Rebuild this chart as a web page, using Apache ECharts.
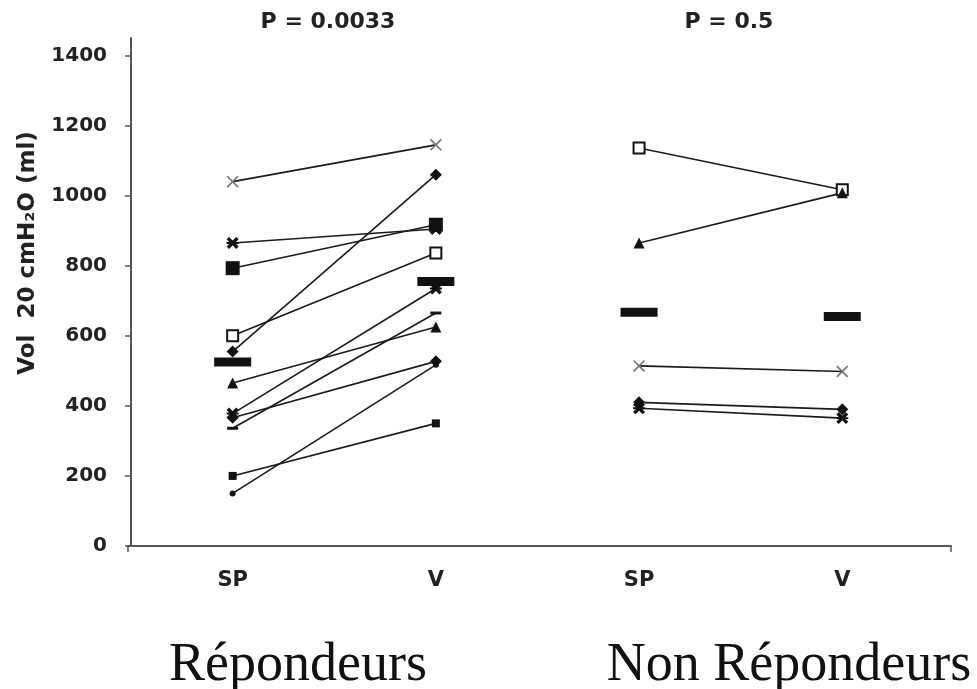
<!DOCTYPE html>
<html>
<head>
<meta charset="utf-8">
<script src="https://cdn.jsdelivr.net/npm/echarts@6/dist/echarts.min.js"></script>
<style>html,body{margin:0;padding:0;background:#fff}#c{width:977px;height:689px}</style>
</head>
<body>
<div id="c"></div>
<script>
// ---- data ----
const categories = ['SP', 'V', 'SP', 'V'];
const xPositions = [0.5, 1.5, 2.5, 3.5];
const yTicks = [0, 200, 400, 600, 800, 1000, 1200, 1400];
const titles = ['P = 0.0033', 'P = 0.5'];
const groupNames = ['Répondeurs', 'Non Répondeurs'];
const yName = 'Vol  20 cmH₂O (ml)';

const respSP = [1040, 865, 793, 600, 555, 465, 378, 366, 336, 200, 150];
const respV  = [1145, 905, 917, 836, 1060, 625, 735, 527, 665, 350, 517];
const respMarkers = ['cross', 'asterisk', 'bigRect', 'emptyRect', 'diamond', 'triangle', 'asterisk', 'diamond', 'dash', 'rect', 'circle'];

const nonSP = [1136, 865, 514, 410, 393];
const nonV  = [1017, 1008, 498, 390, 365];
const nonMarkers = ['emptyRect', 'triangle', 'cross', 'diamond', 'asterisk'];

const respMeans = [525, 755];
const nonMeans = [667, 655];

// ---- styles ----
const markerStyles = {
  cross: { symbol: 'path://M0,1 L1,0 L10,9 L9,10 Z M9,0 L10,1 L1,10 L0,9 Z', size: 12, color: '#777' },
  asterisk: { symbol: 'path://M0,2 L2,0 L10,8 L8,10 Z M8,0 L10,2 L2,10 L0,8 Z M0,4.2 L10,4.2 L10,5.8 L0,5.8 Z', size: 12, color: '#111' },
  bigRect: { symbol: 'rect', size: 14, color: '#111' },
  rect: { symbol: 'rect', size: 8, color: '#111' },
  emptyRect: { symbol: 'emptyRect', size: 11, color: '#111' },
  diamond: { symbol: 'diamond', size: 12, color: '#111' },
  triangle: { symbol: 'triangle', size: 11, color: '#111' },
  circle: { symbol: 'circle', size: 6, color: '#111' },
  dash: { symbol: 'rect', size: [11, 3], color: '#111' }
};

const series = [];
function addGroup(sp, v, markers, xa, xb) {
  for (let i = 0; i < sp.length; i++) {
    const m = markerStyles[markers[i]];
    series.push({
      type: 'line',
      data: [[xa, sp[i]], [xb, v[i]]],
      symbol: m.symbol,
      symbolSize: m.size,
      showAllSymbol: true,
      lineStyle: { color: '#1a1a1a', width: 1.6 },
      itemStyle: { color: m.color, borderWidth: 1.5, opacity: 1 },
      z: 2,
      silent: true
    });
  }
}
addGroup(respSP, respV, respMarkers, xPositions[0], xPositions[1]);
addGroup(nonSP, nonV, nonMarkers, xPositions[2], xPositions[3]);

series.push({
  type: 'scatter',
  data: [[xPositions[0], respMeans[0]], [xPositions[1], respMeans[1]], [xPositions[2], nonMeans[0]], [xPositions[3], nonMeans[1]]],
  symbol: 'rect',
  symbolSize: [37, 9],
  itemStyle: { color: '#111', opacity: 1 },
  z: 5,
  silent: true
});

const xMin = -0.015, xMax = 4.035;

const option = {
  animation: false,
  backgroundColor: '#fff',
  grid: { left: 128, top: 38, width: 823, height: 508, containLabel: false },
  xAxis: {
    type: 'value', min: xMin, max: xMax,
    axisLine: { show: true, onZero: false, lineStyle: { color: '#555', width: 2 } },
    axisTick: { show: true, length: 6, customValues: [xMin, xMax], lineStyle: { color: '#555', width: 1.5 } },
    axisLabel: {
      customValues: xPositions,
      formatter: function (v) { const i = Math.round(v - 0.5); return categories[i] || ''; },
      margin: 24,
      color: '#222', fontFamily: 'DejaVu Sans', fontWeight: 'bold', fontSize: 21
    },
    splitLine: { show: false }
  },
  yAxis: {
    type: 'value', min: 0, max: 1450,
    axisLine: { show: true, lineStyle: { color: '#555', width: 2 } },
    axisTick: { show: true, length: 6, customValues: yTicks, lineStyle: { color: '#555', width: 1.5 } },
    axisLabel: {
      customValues: yTicks, margin: 21,
      formatter: function (v) { return String(Math.round(v)); },
      color: '#222', fontFamily: 'DejaVu Sans', fontWeight: 'bold', fontSize: 20
    },
    splitLine: { show: false }
  },
  graphic: [
    { type: 'text', x: 328, y: 22, style: { text: titles[0], font: 'bold 22px "DejaVu Sans"', fill: '#222', textAlign: 'center', textVerticalAlign: 'middle' } },
    { type: 'text', x: 729, y: 22, style: { text: titles[1], font: 'bold 22px "DejaVu Sans"', fill: '#222', textAlign: 'center', textVerticalAlign: 'middle' } },
    { type: 'text', x: 28, y: 253, rotation: Math.PI / 2, style: { text: yName, font: 'bold 23px "DejaVu Sans"', fill: '#222', textAlign: 'center', textVerticalAlign: 'middle' } },
    { type: 'text', x: 298, y: 666, style: { text: groupNames[0], font: '54px "Liberation Serif"', fill: '#111', textAlign: 'center', textVerticalAlign: 'middle' } },
    { type: 'text', x: 789, y: 666, style: { text: groupNames[1], font: '54px "Liberation Serif"', fill: '#111', textAlign: 'center', textVerticalAlign: 'middle' } }
  ],
  series: series
};

const chart = echarts.init(document.getElementById('c'), null, { renderer: 'canvas' });
chart.setOption(option);
</script>
</body>
</html>
